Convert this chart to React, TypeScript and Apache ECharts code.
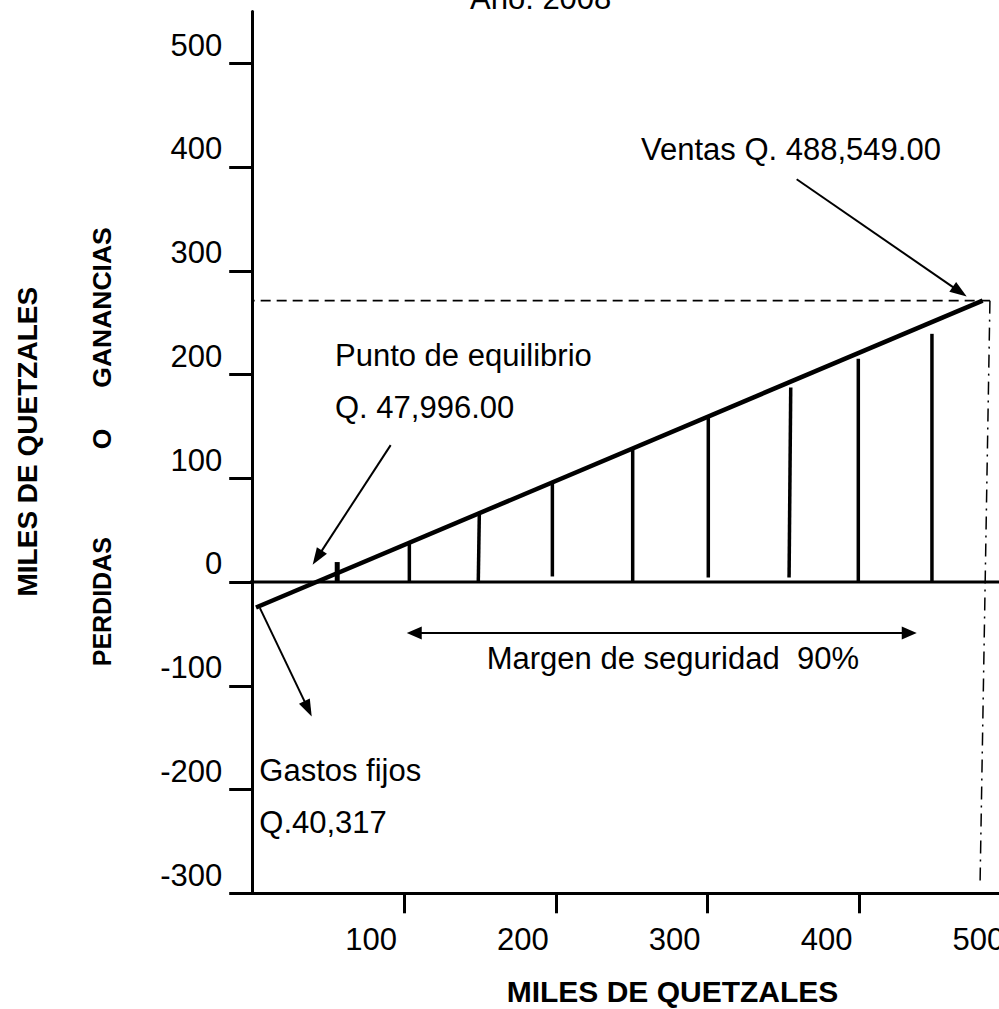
import { useEffect, useRef } from 'react';
import * as echarts from 'echarts';

// Axis ticks (miles de quetzales)
const yTickValues = [-300, -200, -100, 0, 100, 200, 300, 400, 500];
const xTickValues = [100, 200, 300, 400, 500];

// Sales / profit line: [ventas, ganancia]
const salesLine = [
  [2.5, -24.5],
  [481.1, 271.3],
];
// Hatching segments below the line: [xBase, yBase, xTop, yTop]
const hatchSegments = [
  [56.0, 0, 56.0, 19.3],
  [103.5, 0, 103.5, 37.6],
  [148.9, 0, 149.6, 66.5],
  [197.7, 5.4, 197.7, 95.4],
  [250.6, 0, 250.6, 128.2],
  [300.4, 4.4, 300.4, 158.6],
  [353.6, 4.4, 354.7, 187.5],
  [399.2, 0, 399.2, 215.2],
  [447.7, 0, 447.7, 239.3],
];
const zeroLine = [
  [-15.5, 0],
  [540, 0],
];
const salesLevelLine = [
  [-15.5, 271.3],
  [485.9, 271.3],
];
const salesDropLine = [
  [485.9, 271.3],
  [479.4, -289.8],
];
// Annotation arrows: [xFrom, yFrom, xTip, yTip]
const singleArrows = [
  [358.6, 388.3, 470.6, 275.2],
  [91.2, 132.0, 39.8, 16.7],
  [5.1, -25.1, 39.2, -129.5],
];
const marginArrow = [[101.8, -49.1, 437.7, -49.1]];

const FONT = "'Liberation Sans', Arial, Helvetica, sans-serif";

function arrowItem(api: any, doubleHead: boolean, headLen: number, headWidth: number) {
  const p1 = api.coord([api.value(0), api.value(1)]);
  const p2 = api.coord([api.value(2), api.value(3)]);
  const dx = p2[0] - p1[0];
  const dy = p2[1] - p1[1];
  const len = Math.hypot(dx, dy) || 1;
  const ux = dx / len;
  const uy = dy / len;
  const nx = -uy;
  const ny = ux;
  const head = (tip: number[], dirx: number, diry: number) => {
    const bx = tip[0] - dirx * headLen;
    const by = tip[1] - diry * headLen;
    return {
      type: 'polygon',
      shape: {
        points: [
          [tip[0], tip[1]],
          [bx + (nx * headWidth) / 2, by + (ny * headWidth) / 2],
          [bx - (nx * headWidth) / 2, by - (ny * headWidth) / 2],
        ],
      },
      style: { fill: '#000' },
    };
  };
  const start = doubleHead ? [p1[0] + ux * headLen * 0.8, p1[1] + uy * headLen * 0.8] : p1;
  const end = [p2[0] - ux * headLen * 0.8, p2[1] - uy * headLen * 0.8];
  const children: any[] = [
    {
      type: 'line',
      shape: { x1: start[0], y1: start[1], x2: end[0], y2: end[1] },
      style: { stroke: '#000', lineWidth: 2 },
    },
    head(p2, ux, uy),
  ];
  if (doubleHead) children.push(head(p1, -ux, -uy));
  return { type: 'group', children };
}

const textStyle = (size: number, bold = false) => ({
  fontFamily: FONT,
  fontSize: size,
  fontWeight: bold ? 'bold' : 'normal',
  fill: '#000',
});

export default function App() {
  const ref = useRef<HTMLDivElement>(null);

  useEffect(() => {
    if (!ref.current) return;
    const chart = echarts.init(ref.current, undefined, { renderer: 'svg' });
    const option: any = {
      animation: false,
      backgroundColor: '#fff',
      title: {
        text: 'Año: 2008',
        left: 465,
        top: -23,
        textStyle: {
          fontFamily: FONT,
          fontSize: 31,
          fontWeight: 'normal',
          color: '#000',
          lineHeight: 32,
        },
      },
      grid: {
        left: 252.2,
        right: -57.9,
        top: 11.5,
        bottom: 115.7,
        containLabel: false,
        outerBoundsMode: 'none',
      },
      xAxis: {
        type: 'value',
        min: 0,
        max: 530,
        axisLine: { show: true, onZero: false, lineStyle: { color: '#000', width: 3 } },
        axisTick: {
          show: true,
          length: 20,
          customValues: xTickValues,
          lineStyle: { color: '#000', width: 3 },
        },
        axisLabel: {
          customValues: xTickValues,
          color: '#000',
          fontFamily: FONT,
          fontSize: 31,
          margin: 30,
          lineHeight: 32,
          padding: [0, 66, 0, 0],
        },
        splitLine: { show: false },
      },
      yAxis: {
        type: 'value',
        min: -300,
        max: 550,
        axisLine: { show: true, onZero: false, lineStyle: { color: '#000', width: 3 } },
        axisTick: {
          show: true,
          length: 23,
          customValues: yTickValues,
          lineStyle: { color: '#000', width: 3 },
        },
        axisLabel: {
          customValues: yTickValues,
          color: '#000',
          fontFamily: FONT,
          fontSize: 31,
          margin: 30,
          verticalAlign: 'bottom',
          lineHeight: 36.6,
        },
        splitLine: { show: false },
      },
      series: [
        {
          name: 'Cero',
          type: 'line',
          data: zeroLine,
          symbol: 'none',
          clip: false,
          silent: true,
          lineStyle: { color: '#000', width: 3 },
        },
        {
          name: 'Nivel ventas',
          type: 'line',
          data: salesLevelLine,
          symbol: 'none',
          clip: false,
          silent: true,
          lineStyle: { color: '#000', width: 1.6, type: [10, 6] },
        },
        {
          name: 'Proyección ventas',
          type: 'line',
          data: salesDropLine,
          symbol: 'none',
          clip: false,
          silent: true,
          lineStyle: { color: '#000', width: 1.5, type: [13, 6, 2, 6] },
        },
        {
          name: 'Rayado',
          type: 'custom',
          data: hatchSegments,
          encode: { x: [0, 2], y: [1, 3] },
          silent: true,
          renderItem: (params: any, api: any) => {
            const p0 = api.coord([api.value(0), api.value(1)]);
            const p1 = api.coord([api.value(2), api.value(3)]);
            return {
              type: 'line',
              shape: { x1: p0[0], y1: p0[1], x2: p1[0], y2: p1[1] },
              style: { stroke: '#000', lineWidth: params.dataIndex === 0 ? 5 : 3.5 },
            };
          },
        },
        {
          name: 'Ventas',
          type: 'line',
          data: salesLine,
          symbol: 'none',
          clip: false,
          silent: true,
          lineStyle: { color: '#000', width: 4.5 },
        },
        {
          name: 'Flechas',
          type: 'custom',
          data: singleArrows,
          encode: { x: [0, 2], y: [1, 3] },
          silent: true,
          renderItem: (_params: any, api: any) => arrowItem(api, false, 17, 12),
        },
        {
          name: 'Margen',
          type: 'custom',
          data: marginArrow,
          encode: { x: [0, 2], y: [1, 3] },
          silent: true,
          renderItem: (_params: any, api: any) => arrowItem(api, true, 15, 13),
        },
      ],
      graphic: [
        {
          type: 'text',
          x: 641,
          y: 149,
          style: { text: 'Ventas Q. 488,549.00', ...textStyle(31), align: 'left', verticalAlign: 'middle' },
        },
        {
          type: 'text',
          x: 335,
          y: 355.6,
          style: { text: 'Punto de equilibrio', ...textStyle(31), align: 'left', verticalAlign: 'middle' },
        },
        {
          type: 'text',
          x: 335,
          y: 407.2,
          style: { text: 'Q. 47,996.00', ...textStyle(31), align: 'left', verticalAlign: 'middle' },
        },
        {
          type: 'text',
          x: 486.7,
          y: 658.9,
          style: { text: 'Margen de seguridad  90%', ...textStyle(31), align: 'left', verticalAlign: 'middle' },
        },
        {
          type: 'text',
          x: 259.3,
          y: 770.6,
          style: { text: 'Gastos fijos', ...textStyle(31), align: 'left', verticalAlign: 'middle' },
        },
        {
          type: 'text',
          x: 259.3,
          y: 822.2,
          style: { text: 'Q.40,317', ...textStyle(31), align: 'left', verticalAlign: 'middle' },
        },
        {
          type: 'text',
          x: 27,
          y: 441.7,
          rotation: Math.PI / 2,
          style: { text: 'MILES DE QUETZALES', ...textStyle(28, true), align: 'center', verticalAlign: 'middle' },
        },
        {
          type: 'text',
          x: 101.7,
          y: 307.5,
          rotation: Math.PI / 2,
          style: { text: 'GANANCIAS', ...textStyle(26.5, true), align: 'center', verticalAlign: 'middle' },
        },
        {
          type: 'text',
          x: 101.7,
          y: 439,
          rotation: Math.PI / 2,
          style: { text: 'O', ...textStyle(26.5, true), align: 'center', verticalAlign: 'middle' },
        },
        {
          type: 'text',
          x: 101.7,
          y: 601.7,
          rotation: Math.PI / 2,
          style: { text: 'PERDIDAS', ...textStyle(25, true), align: 'center', verticalAlign: 'middle' },
        },
        {
          type: 'text',
          x: 672.5,
          y: 991,
          style: { text: 'MILES DE QUETZALES', ...textStyle(30, true), align: 'center', verticalAlign: 'middle' },
        },
      ],
    };
    chart.setOption(option);
    return () => chart.dispose();
  }, []);

  return (
    <div
      ref={ref}
      style={{ position: 'absolute', left: 0, top: 0, width: 999, height: 1009 }}
    />
  );
}
